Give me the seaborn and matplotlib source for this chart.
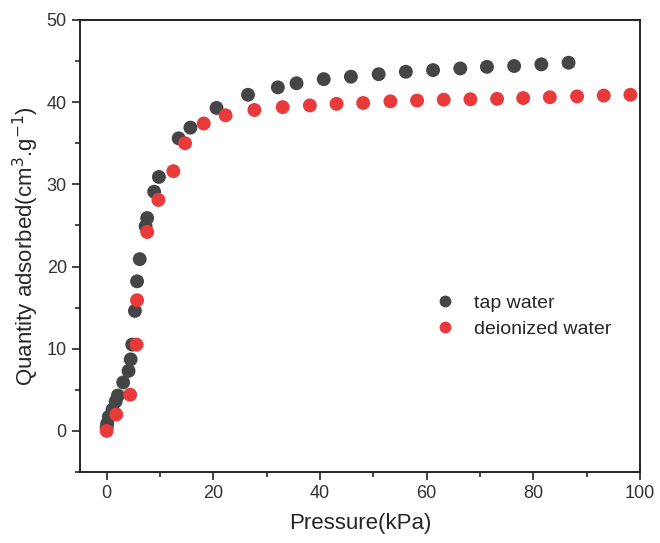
import matplotlib
matplotlib.use("Agg")
import matplotlib.pyplot as plt
import seaborn as sns
import pandas as pd
from matplotlib.ticker import MultipleLocator

tap_x = [0.0, 0.1, 0.4, 1.1, 1.7, 2.1, 3.1, 4.1, 4.5, 4.8, 5.3, 5.7, 6.2, 7.3, 7.6,
         8.9, 9.8, 13.5, 15.7, 20.6, 26.5, 32.1, 35.6, 40.7, 45.8, 51.0, 56.1,
         61.2, 66.3, 71.3, 76.4, 81.5, 86.6]
tap_y = [0.4, 0.9, 1.7, 2.6, 3.6, 4.3, 5.9, 7.3, 8.7, 10.5, 14.6, 18.2, 20.9, 24.9, 25.9,
         29.1, 30.9, 35.6, 36.9, 39.3, 40.9, 41.8, 42.3, 42.8, 43.1, 43.4, 43.7,
         43.9, 44.1, 44.3, 44.4, 44.6, 44.8]
di_x = [0.0, 1.8, 4.4, 5.6, 5.7, 7.6, 9.7, 12.5, 14.7, 18.2, 22.3, 27.7, 33.0, 38.1,
        43.1, 48.1, 53.2, 58.2, 63.2, 68.2, 73.2, 78.1, 83.1, 88.2, 93.2, 98.2]
di_y = [0.0, 2.0, 4.4, 10.5, 15.9, 24.2, 28.1, 31.6, 35.0, 37.4, 38.4, 39.05, 39.4, 39.6,
        39.8, 39.9, 40.1, 40.2, 40.3, 40.35, 40.4, 40.5, 40.6, 40.7, 40.8, 40.9]
series_names = ["tap water", "deionized water"]

df = pd.DataFrame({
    "Pressure": tap_x + di_x,
    "Quantity": tap_y + di_y,
    "Sample": [series_names[0]] * len(tap_x) + [series_names[1]] * len(di_x),
})

sns.set_theme(style="ticks")
plt.rcParams['font.family'] = ['Liberation Sans', 'DejaVu Sans']
plt.rcParams['axes.unicode_minus'] = False

fig = plt.figure(figsize=(6.6, 5.43), dpi=100)
ax = fig.add_axes([0.1212, 0.1308, 0.8485, 0.8324])

palette = {series_names[0]: "#454545", series_names[1]: "#e83a3a"}
sns.scatterplot(data=df, x="Pressure", y="Quantity", hue="Sample", palette=palette,
                s=100, linewidth=0, ax=ax, legend=True)

ax.set_xlim(-5, 100)
ax.set_ylim(-5, 50)
ax.xaxis.set_major_locator(MultipleLocator(20))
ax.xaxis.set_minor_locator(MultipleLocator(10))
ax.yaxis.set_major_locator(MultipleLocator(10))
ax.yaxis.set_minor_locator(MultipleLocator(5))
ax.tick_params(which="major", direction="out", length=6, width=1.2, labelsize=13,
               colors="#222222", labelcolor="#333333", top=False, right=False)
ax.tick_params(which="minor", direction="out", length=3.5, width=1.2, top=False, right=False)
for sp in ax.spines.values():
    sp.set_linewidth(1.4)
    sp.set_color("#222222")
    sp.set_visible(True)

ax.set_xlabel("Pressure(kPa)", fontsize=16, labelpad=8)
ax.set_ylabel("Quantity adsorbed(cm$^{3}$.g$^{-1}$)", fontsize=16, labelpad=4)

leg = ax.legend(loc="center left", bbox_to_anchor=(0.585, 0.345), frameon=False,
                fontsize=14, handletextpad=0.5, labelspacing=0.45, markerscale=0.85)
fig.savefig("out.png", dpi=100)
